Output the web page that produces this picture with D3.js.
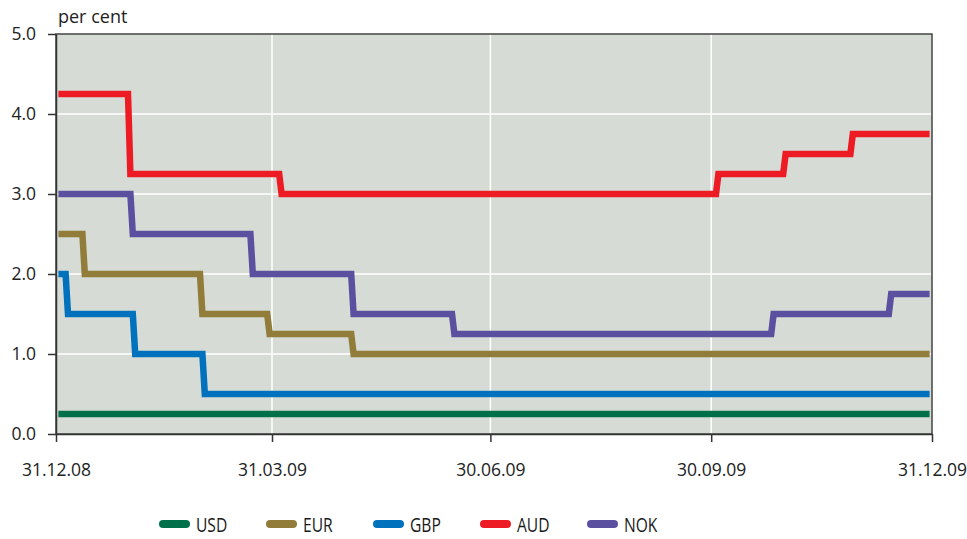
<!DOCTYPE html>
<meta charset="utf-8">
<head>
<style>
body {
  margin: 0;
  background: #fff;
  font-family: "Open Sans", sans-serif;
}
.grid line {
  stroke: #fff;
  stroke-width: 1.5px;
}
.rate {
  fill: none;
  stroke-width: 6.5px;
  stroke-linejoin: miter;
  stroke-linecap: butt;
}
.axis text {
  font-family: "Open Sans", sans-serif;
  font-size: 17.5px;
  fill: #222;
}
.axis path, .axis line {
  stroke: #333;
  stroke-width: 1.5px;
}
</style>
<script src="https://d3js.org/d3.v7.min.js"></script>
</head>
<body>
<div id="chart"></div>
<script>

// policy rates: date of each change and the new rate
var startDate = "2009-01-01", endDate = "2009-12-30";

var usdDates = ["2009-01-01"];
var usdRates = [0.25];

var eurDates = ["2009-01-01", "2009-01-12", "2009-03-02", "2009-03-30", "2009-05-04"];
var eurRates = [2.5, 2.0, 1.5, 1.25, 1.0];

var gbpDates = ["2009-01-01", "2009-01-05", "2009-02-02", "2009-03-03"];
var gbpRates = [2.0, 1.5, 1.0, 0.5];

var audDates = ["2009-01-01", "2009-01-31", "2009-04-04", "2009-10-03", "2009-10-31", "2009-11-28"];
var audRates = [4.25, 3.25, 3.0, 3.25, 3.5, 3.75];

var nokDates = ["2009-01-01", "2009-02-01", "2009-03-23", "2009-05-04", "2009-06-15", "2009-10-26", "2009-12-14"];
var nokRates = [3.0, 2.5, 2.0, 1.5, 1.25, 1.5, 1.75];

var seriesNames = ["USD", "EUR", "GBP", "AUD", "NOK"];
var seriesColors = ["#00704a", "#917c3a", "#0071bc", "#ed1c24", "#5b4f9f"];

var xTickDates = ["2008-12-31", "2009-03-31", "2009-06-30", "2009-09-30", "2009-12-31"];
var yTicks = [0, 1, 2, 3, 4, 5];

var parse = d3.timeParse("%Y-%m-%d");

var margin = {top: 34, right: 35, bottom: 105, left: 56},
  width = 967 - margin.left - margin.right,
  height = 539 - margin.top - margin.bottom;

var svg = d3.select("#chart").append("svg")
  .attr("width", 967)
  .attr("height", 539);

var g = svg.append("g")
  .attr("transform", "translate(" + margin.left + "," + margin.top + ")");

var x = d3.scaleTime()
  .domain([parse(xTickDates[0]), parse(xTickDates[xTickDates.length - 1])])
  .range([0, width]);

var y = d3.scaleLinear()
  .domain([0, 5])
  .range([height, 0]);

// plot background
g.append("rect")
  .attr("width", width)
  .attr("height", height)
  .attr("fill", "#d6dcd5");

// white grid
var grid = g.append("g").attr("class", "grid");
grid.selectAll("hline")
  .data(yTicks.filter(function(d) { return d > 0 && d < 5; }))
  .enter().append("line")
    .attr("x1", 0).attr("x2", width)
    .attr("y1", function(d) { return y(d); })
    .attr("y2", function(d) { return y(d); });
grid.selectAll("vline")
  .data(xTickDates.slice(1, -1))
  .enter().append("line")
    .attr("y1", 0).attr("y2", height)
    .attr("x1", function(d) { return x(parse(d)); })
    .attr("x2", function(d) { return x(parse(d)); });

// turn change lists into daily step points (one-day ramp per change)
function steps(dates, rates) {
  var pts = [];
  dates.forEach(function(d, i) {
    var day = parse(d);
    if (i > 0) pts.push([d3.timeDay.offset(day, -1), rates[i - 1]]);
    pts.push([day, rates[i]]);
  });
  pts.push([parse(endDate), rates[rates.length - 1]]);
  return pts;
}

var allSeries = [
  steps(usdDates, usdRates),
  steps(eurDates, eurRates),
  steps(gbpDates, gbpRates),
  steps(audDates, audRates),
  steps(nokDates, nokRates)
];

var line = d3.line()
  .x(function(d) { return x(d[0]); })
  .y(function(d) { return y(d[1]); });

g.selectAll("rates")
  .data(allSeries)
  .enter().append("path")
    .attr("class", "rate")
    .attr("d", line)
    .attr("stroke", function(d, i) { return seriesColors[i]; });

// frame
g.append("rect")
  .attr("width", width)
  .attr("height", height)
  .attr("fill", "none")
  .attr("stroke", "#444")
  .attr("stroke-width", 1.5);

// axes
g.append("g")
  .attr("class", "axis")
  .attr("transform", "translate(0," + height + ")")
  .call(d3.axisBottom(x)
    .tickValues(xTickDates.map(parse))
    .tickFormat(d3.timeFormat("%d.%m.%y"))
    .tickSize(8)
    .tickSizeOuter(0)
    .tickPadding(22));

g.append("g")
  .attr("class", "axis")
  .call(d3.axisLeft(y)
    .tickValues(yTicks)
    .tickFormat(d3.format(".1f"))
    .tickSize(8)
    .tickSizeOuter(0)
    .tickPadding(12));

svg.append("text")
  .attr("x", 58)
  .attr("y", 23)
  .attr("font-size", 18)
  .attr("fill", "#222")
  .text("per cent");

// legend (condensed labels)
var legend = svg.append("g")
  .attr("transform", "translate(159,524)");
var itemStep = 107;
seriesNames.forEach(function(name, i) {
  var item = legend.append("g").attr("transform", "translate(" + (i * itemStep) + ",0)");
  item.append("line")
    .attr("x1", 4).attr("x2", 27)
    .attr("stroke", seriesColors[i])
    .attr("stroke-width", 8)
    .attr("stroke-linecap", "round");
  item.append("text")
    .attr("transform", "translate(37,7.5) scale(0.78,1)")
    .attr("font-size", 20)
    .attr("fill", "#1a1a1a")
    .text(name);
});

</script>
</body>
</html>
